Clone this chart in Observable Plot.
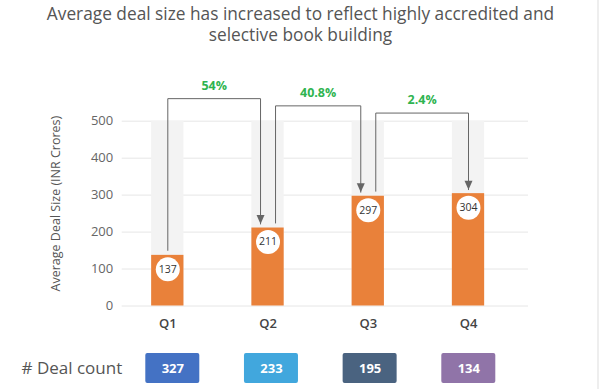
<!DOCTYPE html>
<html><head><meta charset="utf-8">
<script src="https://cdn.jsdelivr.net/npm/d3@7"></script>
<script src="https://cdn.jsdelivr.net/npm/@observablehq/plot@0.6"></script>
<style>
body{margin:0;background:#fff;font-family:"Open Sans",sans-serif;width:601px;height:389px;overflow:hidden;position:relative}
#title{height:50px;box-sizing:border-box;padding-top:3px;text-align:center;font-size:17.3px;line-height:21px;color:#555}
#chart svg,#deals svg{display:block}
#edge{position:absolute;left:597px;top:0;width:2px;height:389px;background:#eeeeee}
</style></head><body>
<div id="title">Average deal size has increased to reflect highly accredited and<br>selective book building</div>
<div id="chart"></div>
<div id="deals"></div>
<div id="edge"></div>
<script>
const quarters = ["Q1","Q2","Q3","Q4"];
const dealSize = [137,211,297,304];
const growthLabels = ["54%","40.8%","2.4%"];
const dealCounts = [327,233,195,134];
const dealColors = ["#4472c4","#41a7dd","#4a6380","#9074a8"];
const yTicks = [0,100,200,300,400,500];
const yLabel = "Average Deal Size (INR Crores)";
const dealLabel = "# Deal count";

const W = 601, H = 289;
const yMax = 500;
const xRange = [167.3, 468];
const yRange = [255.5, 70.7];
const pxPerX = (xRange[1]-xRange[0])/(quarters.length-1);
const pxPerY = (yRange[0]-yRange[1])/yMax;
const off = 7.5/pxPerX;
const gapStart = 5/pxPerY, gapEnd = 4/pxPerY;
const levelTop = 561, levelStep = 19.5;

const bars = quarters.map((q,i)=>({i, q, v: dealSize[i]}));
const arrows = growthLabels.map((label,k) => {
  const a = k, b = k+1;
  const xa = a + (a===0?0:off), xb = b + (b===quarters.length-1?0:-off);
  const ya = dealSize[a] + gapStart, yb = dealSize[b] + gapEnd;
  const level = levelTop - k*levelStep;
  return {k, label, pts: [[xa,ya],[xa,level],[xb,level],[xb,yb]], xm:(xa+xb)/2, level, xb, yb};
});
const arrowPts = arrows.flatMap(a => a.pts.map(([x,y]) => ({k:a.k,x,y})));
const downTri = {draw(ctx){ctx.moveTo(-4,-9);ctx.lineTo(4,-9);ctx.lineTo(0,0);ctx.closePath();}};

const inset = (pxPerX-32.3)/2;
const chart = Plot.plot({
  width: W, height: H,
  marginTop: 70.7, marginBottom: 33.5, marginLeft: 121.7, marginRight: 73,
  style: {fontFamily: "Open Sans, sans-serif", overflow: "visible", background:"transparent"},
  x: {type:"linear", domain:[0,quarters.length-1], range: xRange},
  y: {domain:[0,yMax], range: yRange},
  marks: [
    Plot.gridY(yTicks, {stroke:"#e6e6e6", strokeOpacity:1}),
    Plot.axisY(yTicks, {tickSize:0, tickPadding:9, fontSize:13, fill:"#666", label:null}),
    Plot.axisX(quarters.map((q,i)=>i), {tickSize:0, tickPadding:13, fontSize:13, fill:"#444", fontWeight:600, tickFormat: i=>quarters[i], label:null}),
    Plot.rect(bars, {x1: d=>d.i-0.5, x2: d=>d.i+0.5, y1: ()=>0, y2: ()=>yMax, insetLeft:inset, insetRight:inset, fill:"#f3f3f3"}),
    Plot.rect(bars, {x1: d=>d.i-0.5, x2: d=>d.i+0.5, y1: ()=>0, y2: "v", insetLeft:inset, insetRight:inset, fill:"#e9813a"}),
    Plot.line(arrowPts, {x:"x", y:"y", z:"k", stroke:"#666", strokeWidth:1}),
    Plot.dot(arrows, {x:"xb", y:"yb", symbol: downTri, fill:"#666", stroke:null}),
    Plot.text(arrows, {x:"xm", y:"level", text:"label", dy:-13, fill:"#2fb450", fontWeight:"bold", fontSize:12.5}),
    Plot.dot(bars, {x:"i", y:"v", dy:14, r:12, fill:"white", stroke:null}),
    Plot.text(bars, {x:"i", y:"v", dy:14, text: d=>String(d.v), fontSize:10.5, fill:"#333"}),
    Plot.text([yLabel], {frameAnchor:"left", textAnchor:"middle", text: d=>d, rotate:-90, dx:-66.7, dy:-10, fontSize:12.5, fill:"#555"})
  ]
});
document.getElementById("chart").append(chart);

const dealRows = quarters.map((q,i)=>({i, n: dealCounts[i], color: dealColors[i]}));
const dRange = [172.3, 468.3];
const dInset = ((dRange[1]-dRange[0])/(quarters.length-1) - 54)/2;
const deals = Plot.plot({
  width: W, height: 50, marginTop: 14, marginBottom: 6, marginLeft: 21, marginRight: 0,
  style: {fontFamily: "Open Sans, sans-serif", background:"transparent"},
  x: {type:"linear", domain:[0,quarters.length-1], range: dRange, axis:null},
  color: {type:"identity"},
  marks: [
    Plot.rect(dealRows, {x1: d=>d.i-0.5, x2: d=>d.i+0.5, insetLeft:dInset, insetRight:dInset, fill:"color", rx:2}),
    Plot.text(dealRows, {x:"i", frameAnchor:"middle", text: d=>String(d.n), fill:"white", fontWeight:"bold", fontSize:13}),
    Plot.text([dealLabel], {frameAnchor:"left", text: d=>d, textAnchor:"start", fontSize:17, fill:"#555"})
  ]
});
document.getElementById("deals").append(deals);
</script>
</body></html>
